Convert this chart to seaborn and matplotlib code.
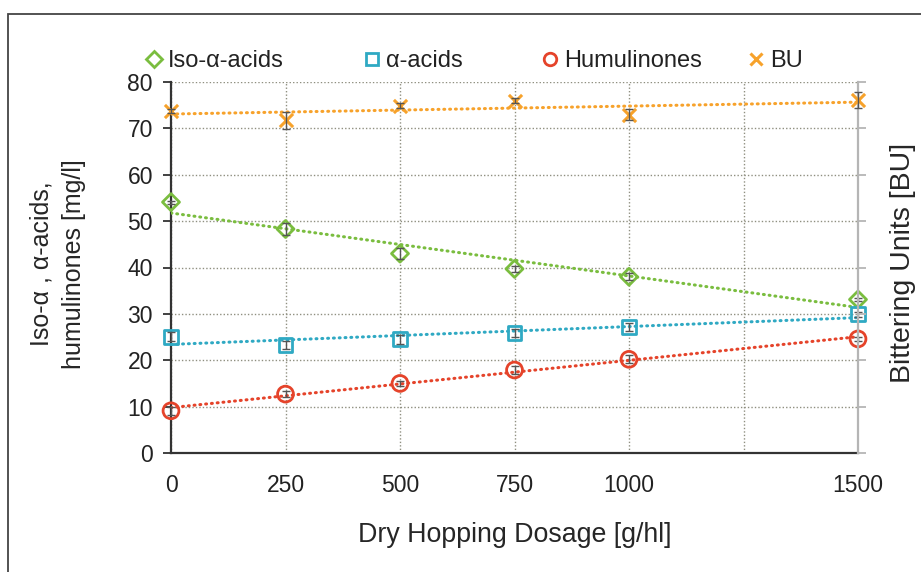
import numpy as np
import pandas as pd
import matplotlib
matplotlib.use("Agg")
import matplotlib.pyplot as plt
import seaborn as sns
from matplotlib.lines import Line2D
from matplotlib.patches import Rectangle

# ---------------- data ----------------
dosage = [0, 250, 500, 750, 1000, 1500]
iso_alpha = [54.1, 48.3, 43.0, 39.7, 38.0, 33.1]
iso_err = [0.3, 1.2, 1.1, 0.6, 0.8, 0.3]
alpha_acids = [25.1, 23.3, 24.5, 25.9, 27.2, 29.9]
alpha_err = [1.0, 0.8, 1.0, 0.9, 0.8, 0.6]
humulinones = [9.1, 12.7, 15.0, 17.9, 20.2, 24.6]
hum_err = [0.8, 0.6, 0.6, 0.8, 0.9, 0.4]
bu = [73.8, 71.7, 74.9, 76.0, 72.9, 76.1]
bu_err = [0.4, 1.9, 0.5, 0.5, 1.2, 1.8]

x_ticks = [0, 250, 500, 750, 1000, 1250, 1500]
x_tick_labels = ["0", "250", "500", "750", "1000", "", "1500"]
y_ticks = [0, 10, 20, 30, 40, 50, 60, 70, 80]

series_names = ["Iso-α-acids", "α-acids", "Humulinones", "BU"]
colors = ["#7ABD3F", "#2FA9C3", "#E5432A", "#F7A22B"]
markers = ["D", "s", "o", "x"]

# ---------------- style ----------------
sns.set_theme(style="white")
plt.rcParams["font.family"] = ["Liberation Sans", "DejaVu Sans"]
plt.rcParams["text.color"] = "#222222"

fig = plt.figure(figsize=(9.21, 5.72), dpi=100)
ax = fig.add_axes([171 / 921, 1 - 453 / 572, (858 - 171) / 921, (453 - 82) / 572])
ax2 = ax.twinx()

dot_style = (0, (0.3, 1.6))

marker_sizes = {"D": 75, "s": 100, "o": 130, "x": 90}


def draw(axis, vals, errs, color, marker):
    sc_kws = dict(facecolors="none", edgecolors=color, linewidths=2.0,
                  s=marker_sizes[marker], alpha=1, clip_on=False, zorder=4)
    if marker == "x":
        sc_kws = dict(color=color, linewidths=2.2, s=marker_sizes[marker],
                      alpha=1, clip_on=False, zorder=4)
    sns.regplot(x=dosage, y=vals, ax=axis, ci=None, truncate=True,
                marker=marker, scatter_kws=sc_kws,
                line_kws=dict(color=color, linestyle=dot_style, linewidth=2.2,
                              dash_capstyle="round", zorder=3))
    axis.errorbar(dosage, vals, yerr=errs, fmt="none", ecolor="#555555",
                  elinewidth=1.0, capsize=3, capthick=1.0, zorder=5, clip_on=False)


draw(ax, iso_alpha, iso_err, colors[0], markers[0])
draw(ax, alpha_acids, alpha_err, colors[1], markers[1])
draw(ax, humulinones, hum_err, colors[2], markers[2])
draw(ax2, bu, bu_err, colors[3], markers[3])

for a in (ax, ax2):
    a.set_xlim(0, 1500)
    a.set_ylim(0, 80)
    a.set_xlabel("")
    a.set_ylabel("")

ax.set_xticks(x_ticks)
ax.set_xticklabels(x_tick_labels)
ax.set_yticks(y_ticks)
ax.grid(True, linestyle=(0, (1, 1.5)), color="#8f8f80", linewidth=1.0)
ax.set_axisbelow(True)

ax.tick_params(axis="both", direction="out", length=6, width=1.3,
               color="#333333", labelsize=16.5, labelcolor="#222222", pad=7)
ax.tick_params(axis="x", pad=9)

for s in ["top", "right"]:
    ax.spines[s].set_visible(False)
for s in ["left", "bottom"]:
    ax.spines[s].set_color("#333333")
    ax.spines[s].set_linewidth(1.6)

ax2.set_yticks(y_ticks)
ax2.set_yticklabels([])
ax2.tick_params(axis="y", direction="out", length=6, width=1.3, color="#b5b5b5")
for s in ["top", "left", "bottom"]:
    ax2.spines[s].set_visible(False)
ax2.spines["right"].set_color("#b5b5b5")
ax2.spines["right"].set_linewidth(1.6)
ax2.grid(False)

ax.set_xlabel("Dry Hopping Dosage [g/hl]", fontsize=19.3, labelpad=18)
ax.set_ylabel("Iso-α , α-acids,\nhumulinones [mg/l]", fontsize=18,
              linespacing=1.45)
ax.yaxis.set_label_coords(-(171 - 86) / 687, (453 - 264) / 371)
ax2.set_ylabel("Bittering Units [BU]", fontsize=20.5, labelpad=6)
ax2.yaxis.set_label_coords(1 + (890 - 858) / 687, (453 - 263) / 371)

# legend: one entry each, placed across the top
marker_x = [154, 372, 550, 756]
for name, col, mk, mx in zip(series_names, colors, markers, marker_x):
    if mk == "x":
        h = Line2D([], [], linestyle="none", marker=mk, markersize=8,
                   markeredgewidth=2.2, color=col)
    else:
        h = Line2D([], [], linestyle="none", marker=mk, markersize=9 if mk != "D" else 8,
                   markerfacecolor="none", markeredgecolor=col, markeredgewidth=2.0)
    fs = 17
    hl = 0.6
    left_px = mx - hl * fs * 100 / 72 / 2
    fig.legend(handles=[h], labels=[name], loc="center left",
               bbox_to_anchor=(left_px / 921, 1 - 61 / 572),
               frameon=False, fontsize=fs, handlelength=hl, handletextpad=0.3,
               borderpad=0, borderaxespad=0)

# outer frame
fig.patches.append(Rectangle((8 / 921, -0.1), 1.2, 1 - 14 / 572 + 0.1,
                             transform=fig.transFigure, fill=False,
                             edgecolor="#444444", linewidth=1.3))

fig.savefig("out.png", dpi=100)
